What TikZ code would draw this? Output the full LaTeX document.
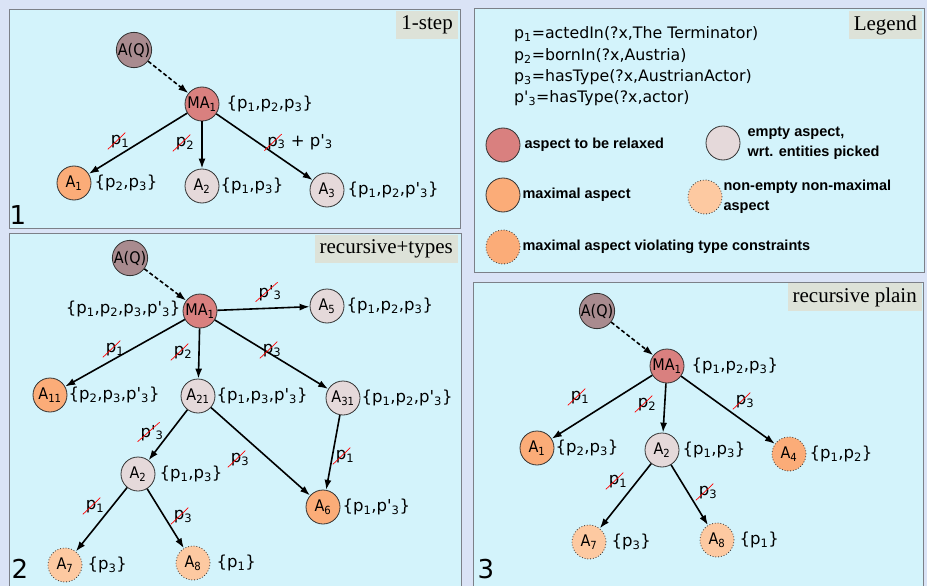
\documentclass[tikz,border=0pt]{standalone}
\usepackage{fontspec}
\usepackage{xcolor}
\usepackage{tikz}
\usetikzlibrary{calc,arrows.meta,positioning}

\newfontfamily\lblfont{DejaVu Sans}
\newfontfamily\nodefont{DejaVu Sans Condensed}
\newfontfamily\legfont{Liberation Sans}
\newfontfamily\ttlfont{Liberation Serif}

\definecolor{bgcol}{HTML}{DAE3F6}
\definecolor{panelcol}{HTML}{D3F3FB}
\definecolor{framecol}{HTML}{7C8088}
\definecolor{titlecol}{HTML}{DDE2D8}
\definecolor{querycol}{HTML}{A98B8F}
\definecolor{relaxcol}{HTML}{D9807F}
\definecolor{emptycol}{HTML}{E5D9DA}
\definecolor{maxcol}{HTML}{FBAC78}
\definecolor{nonmaxcol}{HTML}{FDC9A1}

% crossed-out predicate
\newcommand{\nop}[1]{\tikz[baseline=(s.base)]{\node[shape=rectangle,draw=none,fill=none,inner sep=0pt,outer sep=0pt,anchor=base,minimum size=0pt] (s) {#1};\draw[overlay,red,line width=0.7pt,solid] ($(s.south west)+(-3pt,-1pt)$) -- ($(s.north east)+(4pt,3pt)$);}}
\newcommand{\idx}[1]{\textsubscript{#1}}
\newcommand{\prm}{\textquotesingle}

\tikzset{
  panel/.style={draw=framecol,fill=panelcol,line width=0.9pt},
  title/.style={fill=titlecol,anchor=north east,inner xsep=5pt,minimum height=28pt,font=\ttlfont\fontsize{21}{21}\selectfont},
  asp/.style={circle,draw=black!80,line width=0.8pt,minimum size=34pt,inner sep=0pt,font=\nodefont\fontsize{16}{16}\selectfont},
  query/.style={asp,fill=querycol},
  relax/.style={asp,fill=relaxcol},
  emptyasp/.style={asp,fill=emptycol},
  maxasp/.style={asp,fill=maxcol},
  nonmax/.style={asp,fill=nonmaxcol,dotted},
  violate/.style={asp,fill=maxcol,dotted},
  set/.style={inner sep=1pt,font=\lblfont\fontsize{16.5}{16.5}\selectfont},
  elab/.style={inner sep=0pt,font=\lblfont\fontsize{16.5}{16.5}\selectfont},
  rel/.style={-{Latex[length=10pt,width=7pt]},line width=1.6pt},
  qrel/.style={rel,dash pattern=on 4pt off 2.5pt},
  pnum/.style={font=\lblfont\fontsize{26}{26}\selectfont},
  legline/.style={anchor=west,inner sep=0pt,font=\lblfont\fontsize{15.8}{15.8}\selectfont},
  legtext/.style={inner sep=0pt,align=left,font=\legfont\bfseries\fontsize{14.5}{20}\selectfont}
}

\begin{document}
\begin{tikzpicture}[x=1pt,y=-1pt]
  \clip (0,0) rectangle (927,586);
  \fill[bgcol] (0,0) rectangle (927,586);

  % --- Panels ---
  \draw[panel] (9,9) rectangle (460,228);
  \draw[panel] (9,233) rectangle (461,592);
  \draw[panel] (474,8) rectangle (924,272);
  \draw[panel] (473,282) rectangle (923,592);
  \node[title] (oneT) at (458,11) {1-step};
  \node[title] (twoT) at (458,235) {recursive+types};
  \node[title] (legT) at (922,11) {Legend};
  \node[title] (thrT) at (922,283) {recursive plain};

  % --- Panel 1: 1-step ---
  \node[query] (oneQ) at (134,50) {A(Q)};
  \node[relax] (oneMA) at (202,104) {MA\idx{1}};
  \node[maxasp] (oneA1) at (74,183) {A\idx{1}};
  \node[emptyasp] (oneA2) at (202,186) {A\idx{2}};
  \node[emptyasp] (oneA3) at (327,190) {A\idx{3}};
  \node[set,right=6pt of oneMA] {\{p\idx{1},p\idx{2},p\idx{3}\}};
  \node[set,right=2pt of oneA1] {\{p\idx{2},p\idx{3}\}};
  \node[set,right=0pt of oneA2] {\{p\idx{1},p\idx{3}\}};
  \node[set,right=2pt of oneA3] {\{p\idx{1},p\idx{2},p\prm\idx{3}\}};
  \draw[qrel] (oneQ) -- (oneMA);
  \foreach \t in {oneA1,oneA2,oneA3}
    \draw[rel] (oneMA) -- (\t);
  \node[elab] at (120,142) {\nop{p}\idx{1}};
  \node[elab] at (185,144) {\nop{p}\idx{2}};
  \node[elab] at (300,142) {\nop{p}\idx{3} + p\prm\idx{3}};
  \node[pnum] at (18,215) {1};

  % --- Panel 2: recursive+types ---
  \node[query] (twoQ) at (130,258) {A(Q)};
  \node[relax] (twoMA) at (200,311) {MA\idx{1}};
  \node[emptyasp] (twoA5) at (327,306) {A\idx{5}};
  \node[maxasp] (twoA11) at (50,395) {A\idx{11}};
  \node[emptyasp] (twoA21) at (198,396) {A\idx{21}};
  \node[emptyasp] (twoA31) at (343,398) {A\idx{31}};
  \node[emptyasp] (twoA2) at (138,474) {A\idx{2}};
  \node[maxasp] (twoA6) at (323,507) {A\idx{6}};
  \node[nonmax] (twoA7) at (65,565) {A\idx{7}};
  \node[nonmax] (twoA8) at (193,563) {A\idx{8}};
  \node[set,left=1pt of twoMA,yshift=2pt] {\{p\idx{1},p\idx{2},p\idx{3},p\prm\idx{3}\}};
  \node[set,right=1pt of twoA5] {\{p\idx{1},p\idx{2},p\idx{3}\}};
  \node[set,right=0pt of twoA11] {\{p\idx{2},p\idx{3},p\prm\idx{3}\}};
  \node[set,right=0pt of twoA21] {\{p\idx{1},p\idx{3},p\prm\idx{3}\}};
  \node[set,right=0pt of twoA31] {\{p\idx{1},p\idx{2},p\prm\idx{3}\}};
  \node[set,right=3pt of twoA2] {\{p\idx{1},p\idx{3}\}};
  \node[set,right=1pt of twoA6] {\{p\idx{1},p\prm\idx{3}\}};
  \node[set,right=4pt of twoA7] {\{p\idx{3}\}};
  \node[set,right=5pt of twoA8] {\{p\idx{1}\}};
  \draw[qrel] (twoQ) -- (twoMA);
  \foreach \t in {twoA5,twoA11,twoA21,twoA31}
    \draw[rel] (twoMA) -- (\t);
  \draw[rel] (twoA21) -- (twoA2);
  \draw[rel] (twoA21) -- (twoA6);
  \draw[rel] (twoA31) -- (twoA6);
  \draw[rel] (twoA2) -- (twoA7);
  \draw[rel] (twoA2) -- (twoA8);
  \node[elab] at (270,293) {\nop{p\prm}\idx{3}};
  \node[elab] at (115,350) {\nop{p}\idx{1}};
  \node[elab] at (183,353) {\nop{p}\idx{2}};
  \node[elab] at (272,351) {\nop{p}\idx{3}};
  \node[elab] at (152,433) {\nop{p\prm}\idx{3}};
  \node[elab] at (240,460) {\nop{p}\idx{3}};
  \node[elab] at (345,457) {\nop{p}\idx{1}};
  \node[elab] at (95,507) {\nop{p}\idx{1}};
  \node[elab] at (183,517) {\nop{p}\idx{3}};
  \node[pnum] at (20,569) {2};

  % --- Panel 3: recursive plain ---
  \node[query] (thrQ) at (597,311) {A(Q)};
  \node[relax] (thrMA) at (667,366) {MA\idx{1}};
  \node[maxasp] (thrA1) at (537,448) {A\idx{1}};
  \node[emptyasp] (thrA2) at (662,450) {A\idx{2}};
  \node[violate] (thrA4) at (789,454) {A\idx{4}};
  \node[nonmax] (thrA7) at (589,542) {A\idx{7}};
  \node[nonmax] (thrA8) at (717,540) {A\idx{8}};
  \node[set,right=6pt of thrMA] {\{p\idx{1},p\idx{2},p\idx{3}\}};
  \node[set,right=0pt of thrA1] {\{p\idx{2},p\idx{3}\}};
  \node[set,right=2pt of thrA2] {\{p\idx{1},p\idx{3}\}};
  \node[set,right=2pt of thrA4] {\{p\idx{1},p\idx{2}\}};
  \node[set,right=4pt of thrA7] {\{p\idx{3}\}};
  \node[set,right=4pt of thrA8] {\{p\idx{1}\}};
  \draw[qrel] (thrQ) -- (thrMA);
  \foreach \t in {thrA1,thrA2,thrA4}
    \draw[rel] (thrMA) -- (\t);
  \draw[rel] (thrA2) -- (thrA7);
  \draw[rel] (thrA2) -- (thrA8);
  \node[elab] at (580,398) {\nop{p}\idx{1}};
  \node[elab] at (647,405) {\nop{p}\idx{2}};
  \node[elab] at (745,402) {\nop{p}\idx{3}};
  \node[elab] at (618,482) {\nop{p}\idx{1}};
  \node[elab] at (708,493) {\nop{p}\idx{3}};
  \node[pnum] at (486,569) {3};

  % --- Legend ---
  \node[legline] at (514,34) {p\idx{1}=actedIn(?x,The Terminator)};
  \node[legline] at (514,56) {p\idx{2}=bornIn(?x,Austria)};
  \node[legline] at (514,77) {p\idx{3}=hasType(?x,AustrianActor)};
  \node[legline] at (514,98) {p\prm\idx{3}=hasType(?x,actor)};
  \node[relax] (legRelax) at (503,145) {};
  \node[emptyasp] (legEmpty) at (723,143) {};
  \node[maxasp] (legMax) at (503,195) {};
  \node[nonmax] (legNonmax) at (705,197) {};
  \node[violate] (legViol) at (503,247) {};
  \node[legtext,right=4pt of legRelax] {aspect to be relaxed};
  \node[legtext,right=7pt of legEmpty] {empty aspect,\\wrt. entities picked};
  \node[legtext,right=2pt of legMax] {maximal aspect};
  \node[legtext,right=1pt of legNonmax] {non-empty non-maximal\\aspect};
  \node[legtext,right=2pt of legViol] {maximal aspect violating type constraints};
\end{tikzpicture}
\end{document}
